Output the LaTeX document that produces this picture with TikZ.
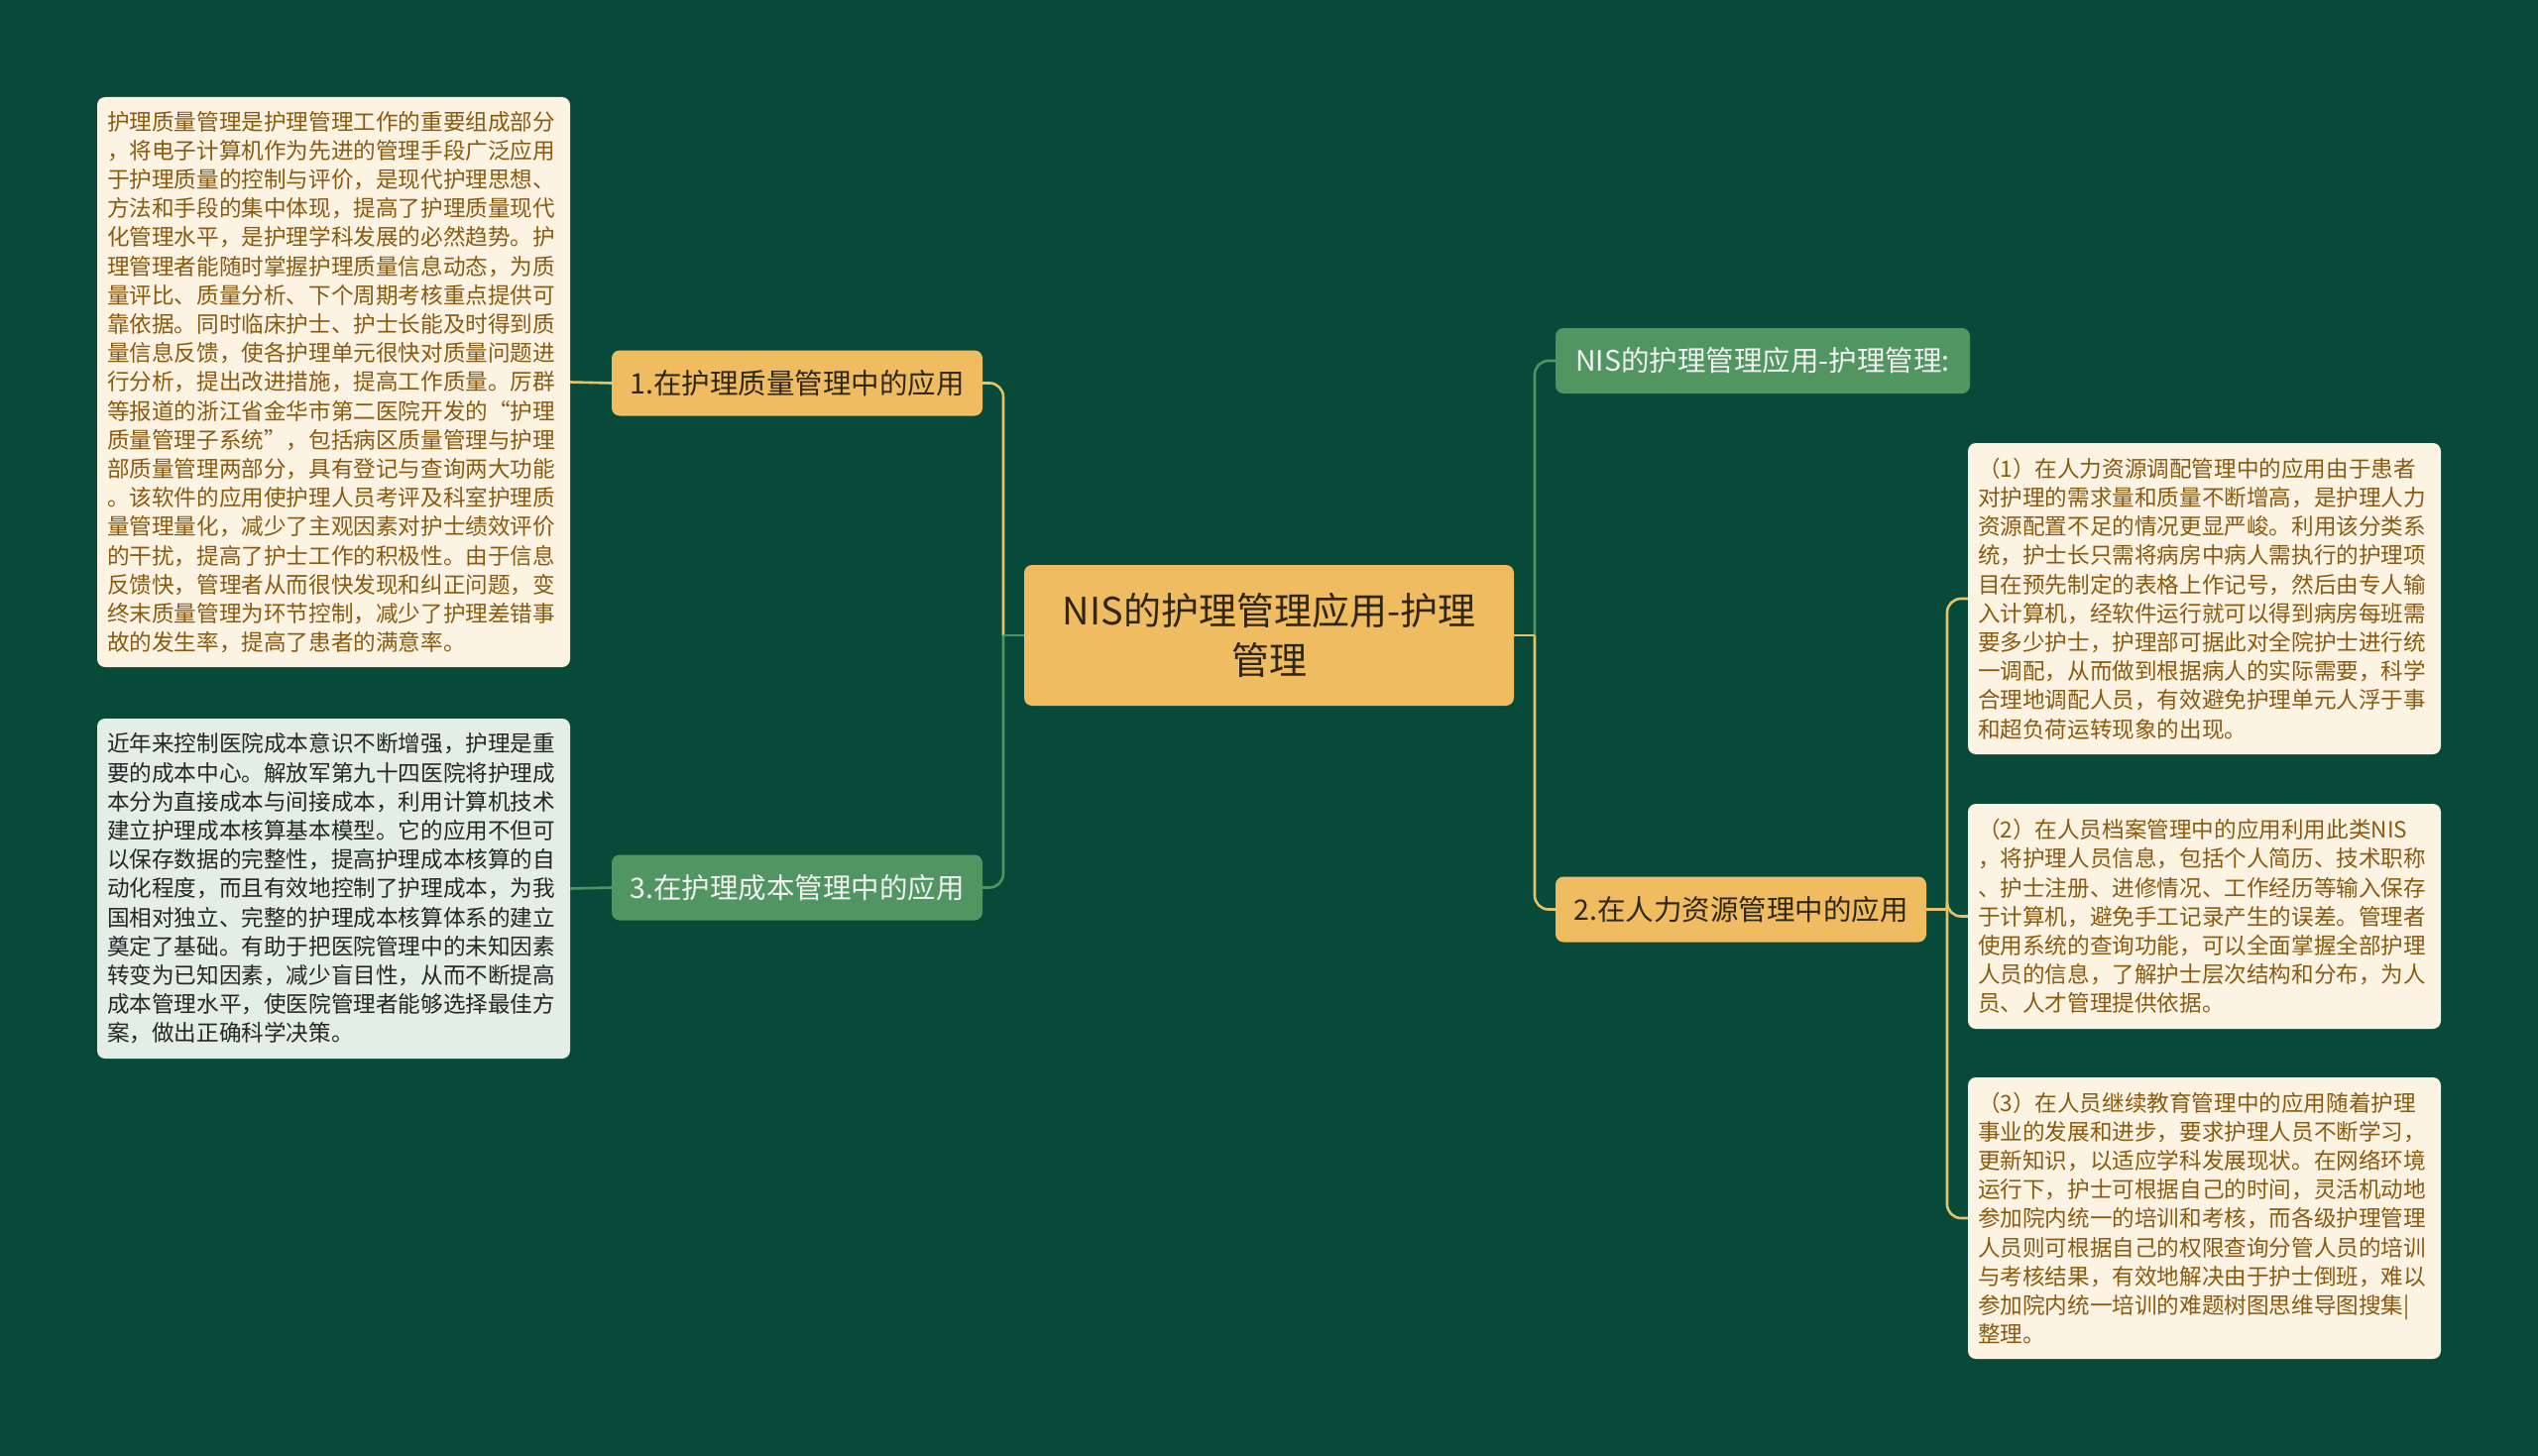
\documentclass[tikz,border=0pt]{standalone}
\usepackage{fontspec}
\newfontfamily\cjk{Noto Sans CJK SC}
\definecolor{bg}{HTML}{074A3A}
\definecolor{orangefill}{HTML}{F0BC62}
\definecolor{greenfill}{HTML}{519562}
\definecolor{creamfill}{HTML}{FCF3E3}
\definecolor{mintfill}{HTML}{E2EEE6}
\definecolor{browntext}{HTML}{8A5A10}
\definecolor{darktext}{HTML}{2F2715}
\definecolor{yline}{HTML}{E6C36B}
\definecolor{gline}{HTML}{4F9462}
\tikzset{
  center/.style={fill=orangefill, rounded corners=8pt, minimum width=494pt, minimum height=142pt,
    align=center, text=darktext, font=\cjk\fontsize{38}{50}\selectfont, inner sep=0pt},
  obranch/.style={fill=orangefill, rounded corners=8pt, minimum width=374pt, minimum height=66pt,
    text=darktext, font=\cjk\fontsize{28.5}{34}\selectfont, inner sep=0pt},
  gbranch/.style={fill=greenfill, rounded corners=8pt, minimum height=66pt,
    text=white!95!black, font=\cjk\fontsize{28.5}{34}\selectfont, inner sep=0pt},
  leafc/.style={fill=creamfill, rounded corners=8pt, minimum width=477pt, text width=457pt,
    inner xsep=10pt, inner ysep=0pt, align=left, text=browntext, font=\cjk\fontsize{22.6}{29.2}\selectfont},
  leafm/.style={leafc, fill=mintfill, text=black!85},
  ycon/.style={draw=yline, line width=2.6pt, rounded corners=14pt},
  gcon/.style={draw=gline, line width=2.6pt, rounded corners=14pt},
}
\begin{document}
\begin{tikzpicture}[x=1pt,y=-1pt]
\fill[bg] (0,0) rectangle (2560,1469);
\useasboundingbox (0,0) rectangle (2560,1469);

\node[center] (c) at (1280,641) {NIS的护理管理应用-护理\\管理};

\node[obranch] (b1) at (804,386.5) {1.在护理质量管理中的应用};
\node[gbranch, minimum width=374pt] (b3) at (804,895.5) {3.在护理成本管理中的应用};
\node[gbranch, minimum width=418pt] (bn) at (1778,364) {NIS的护理管理应用-护理管理:};
\node[obranch] (b2) at (1756,917.5) {2.在人力资源管理中的应用};

\node[leafc, minimum height=575pt] (l1) at (336.5,385.5) {护理质量管理是护理管理工作的重要组成部分\\
，将电子计算机作为先进的管理手段广泛应用\\
于护理质量的控制与评价，是现代护理思想、\\
方法和手段的集中体现，提高了护理质量现代\\
化管理水平，是护理学科发展的必然趋势。护\\
理管理者能随时掌握护理质量信息动态，为质\\
量评比、质量分析、下个周期考核重点提供可\\
靠依据。同时临床护士、护士长能及时得到质\\
量信息反馈，使各护理单元很快对质量问题进\\
行分析，提出改进措施，提高工作质量。厉群\\
等报道的浙江省金华市第二医院开发的“护理\\
质量管理子系统”，包括病区质量管理与护理\\
部质量管理两部分，具有登记与查询两大功能\\
。该软件的应用使护理人员考评及科室护理质\\
量管理量化，减少了主观因素对护士绩效评价\\
的干扰，提高了护士工作的积极性。由于信息\\
反馈快，管理者从而很快发现和纠正问题，变\\
终末质量管理为环节控制，减少了护理差错事\\
故的发生率，提高了患者的满意率。};

\node[leafm, minimum height=343pt] (l3) at (336.5,896.5) {近年来控制医院成本意识不断增强，护理是重\\
要的成本中心。解放军第九十四医院将护理成\\
本分为直接成本与间接成本，利用计算机技术\\
建立护理成本核算基本模型。它的应用不但可\\
以保存数据的完整性，提高护理成本核算的自\\
动化程度，而且有效地控制了护理成本，为我\\
国相对独立、完整的护理成本核算体系的建立\\
奠定了基础。有助于把医院管理中的未知因素\\
转变为已知因素，减少盲目性，从而不断提高\\
成本管理水平，使医院管理者能够选择最佳方\\
案，做出正确科学决策。};

\node[leafc, minimum height=314pt] (r1) at (2223.5,604) {（1）在人力资源调配管理中的应用由于患者\\
对护理的需求量和质量不断增高，是护理人力\\
资源配置不足的情况更显严峻。利用该分类系\\
统，护士长只需将病房中病人需执行的护理项\\
目在预先制定的表格上作记号，然后由专人输\\
入计算机，经软件运行就可以得到病房每班需\\
要多少护士，护理部可据此对全院护士进行统\\
一调配，从而做到根据病人的实际需要，科学\\
合理地调配人员，有效避免护理单元人浮于事\\
和超负荷运转现象的出现。};

\node[leafc, minimum height=227pt] (r2) at (2223.5,924.5) {（2）在人员档案管理中的应用利用此类NIS\\
，将护理人员信息，包括个人简历、技术职称\\
、护士注册、进修情况、工作经历等输入保存\\
于计算机，避免手工记录产生的误差。管理者\\
使用系统的查询功能，可以全面掌握全部护理\\
人员的信息，了解护士层次结构和分布，为人\\
员、人才管理提供依据。};

\node[leafc, minimum height=284pt] (r3) at (2223.5,1229) {（3）在人员继续教育管理中的应用随着护理\\
事业的发展和进步，要求护理人员不断学习，\\
更新知识，以适应学科发展现状。在网络环境\\
运行下，护士可根据自己的时间，灵活机动地\\
参加院内统一的培训和考核，而各级护理管理\\
人员则可根据自己的权限查询分管人员的培训\\
与考核结果，有效地解决由于护士倒班，难以\\
参加院内统一培训的难题树图思维导图搜集|\\
整理。};

% junction coordinates
\coordinate (jl) at (1012,641);
\coordinate (jr) at (1548,641);
\coordinate (j2) at (1964,917.5);

% left side
\draw[ycon] (b1.east) -| (jl);
\draw[gcon] (b3.east) -| (jl);
\draw[gcon] (jl) -- (c.west);
\draw[ycon] (l1.east) -- (b1.west);
\draw[gcon] (l3.east) -- (b3.west);

% right side
\draw[gcon] (bn.west) -| (jr);
\draw[ycon] (b2.west) -| (jr);
\draw[ycon] (c.east) -- (jr);

% sub branches
\draw[ycon] (b2.east) -- (j2);
\draw[ycon] (r1.west) -| (j2);
\draw[ycon] (r3.west) -| (j2);
\draw[ycon] (j2) |- (r2.west);
\end{tikzpicture}
\end{document}
